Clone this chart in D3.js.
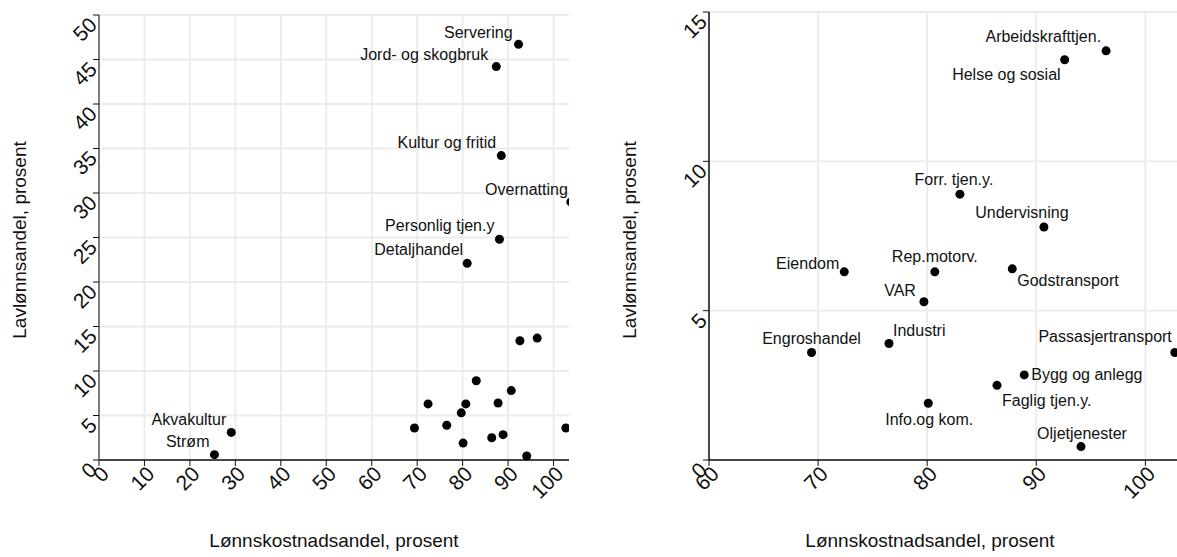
<!DOCTYPE html>
<html><head><meta charset="utf-8">
<script src="https://cdn.jsdelivr.net/npm/d3@7"></script>
<style>body{margin:0;background:#fff}text{font-family:"Liberation Sans",Arial,sans-serif;fill:#111}</style>
</head><body>
<script>
// left panel: all industries
const leftNames = ["Servering","Jord- og skogbruk","Kultur og fritid","Overnatting","Personlig tjen.y","Detaljhandel","Akvakultur","Strøm",
  "Arbeidskrafttjen.","Helse og sosial","Forr. tjen.y.","Undervisning","Eiendom","Rep.motorv.","VAR","Godstransport","Engroshandel","Industri",
  "Passasjertransport","Bygg og anlegg","Faglig tjen.y.","Info.og kom.","Oljetjenester"];
const leftX = [92.3,87.4,88.5,103.8,88.1,81.0,29.1,25.4, 96.4,92.6,83.0,90.7,72.4,80.7,79.7,87.8,69.4,76.5,102.7,88.9,86.4,80.1,94.1];
const leftY = [46.7,44.2,34.2,29.0,24.8,22.1,3.1,0.6, 13.7,13.4,8.9,7.8,6.3,6.3,5.3,6.4,3.6,3.9,3.6,2.85,2.5,1.9,0.45];
const leftLabelled = 8; // first 8 get labels on the left panel
const leftXTicks = [0,10,20,30,40,50,60,70,80,90,100];
const leftYTicks = [0,5,10,15,20,25,30,35,40,45,50];

// right panel: zoom on the low-wage-share cluster
const rightNames = leftNames.slice(8);
const rightX = leftX.slice(8);
const rightY = leftY.slice(8);
const rightXTicks = [60,70,80,90,100];
const rightYTicks = [0,5,10,15];

// label placement [anchor, dx, dy]
const leftLab = [["end",-6,-6],["end",-8,-7],["end",-5,-8],["end",-3,-7],["end",-5,-8],["end",-4,-8],["end",-5,-7],["end",-5,-8]];
const rightLab = [["end",-5,-9],["end",-4,20],["middle",-6,-9],["middle",-22,-9],["end",-5,-3],["middle",0,-10],["end",-8,-6],
  ["start",5,17],["middle",0,-8],["start",4,-8],["end",-3,-10],["start",7,5],["start",5,21],["middle",1,22],["middle",1,-8]];

const svg = d3.select("body").append("svg").attr("width",1177).attr("height",557);

function panel(o) {
  const x = d3.scaleLinear().domain(o.xd).range(o.xr);
  const y = d3.scaleLinear().domain(o.yd).range([460, o.ytop]);
  const g = svg.append("g");
  const cl = "clip" + o.id;
  svg.append("clipPath").attr("id", cl).append("rect")
    .attr("x", o.xr[0]).attr("y", 0).attr("width", o.xr[1]-o.xr[0]).attr("height", 470);
  // grid
  g.selectAll(".gx").data(o.xt).join("line").attr("x1",d=>x(d)).attr("x2",d=>x(d))
    .attr("y1",460).attr("y2",o.ytop).attr("stroke","#ebebeb").attr("stroke-width",1.8);
  g.selectAll(".gy").data(o.yt).join("line").attr("y1",d=>y(d)).attr("y2",d=>y(d))
    .attr("x1",o.xr[0]).attr("x2",o.xr[1]).attr("stroke","#ebebeb").attr("stroke-width",1.8);
  // axes
  g.append("line").attr("x1",o.xr[0]).attr("x2",o.xr[1]).attr("y1",460).attr("y2",460).attr("stroke","#111").attr("stroke-width",1.5);
  g.append("line").attr("x1",o.xr[0]).attr("x2",o.xr[0]).attr("y1",460).attr("y2",o.ytop).attr("stroke",o.ycol).attr("stroke-width",1.5);
  g.selectAll(".tx").data(o.xt).join("line").attr("x1",d=>x(d)).attr("x2",d=>x(d)).attr("y1",460).attr("y2",466).attr("stroke","#111");
  g.selectAll(".ty").data(o.yt).join("line").attr("y1",d=>y(d)).attr("y2",d=>y(d)).attr("x1",o.xr[0]-6).attr("x2",o.xr[0]).attr("stroke","#111");
  g.selectAll(".lx").data(o.xt).join("text").attr("font-size",21).attr("text-anchor","end").attr("dy","0.35em")
    .attr("transform",d=>`translate(${x(d)+6},${470}) rotate(-45)`).text(d=>d);
  g.selectAll(".ly").data(o.yt).join("text").attr("font-size",21).attr("text-anchor","end").attr("dy","0.35em")
    .attr("transform",d=>`translate(${o.xr[0]-6},${y(d)+6}) rotate(-45)`).text(d=>d);
  // titles
  g.append("text").attr("font-size",19).attr("text-anchor","middle").attr("x",o.xtx).attr("y",547).text("Lønnskostnadsandel, prosent");
  g.append("text").attr("font-size",19).attr("text-anchor","middle").attr("transform",`translate(${o.ytx},240) rotate(-90)`).text("Lavlønnsandel, prosent");
  // points
  const pts = o.xs.map((v,i)=>({x:v,y:o.ys[i],n:o.names[i],l:o.lab[i]}));
  const pg = g.append("g").attr("clip-path",`url(#${cl})`);
  pg.selectAll("circle").data(pts).join("circle").attr("cx",d=>x(d.x)).attr("cy",d=>y(d.y)).attr("r",4.5).attr("fill","#000");
  g.selectAll(".pl").data(pts.filter(d=>d.l)).join("text").attr("font-size",16)
    .attr("text-anchor",d=>d.l[0]).attr("x",d=>x(d.x)+d.l[1]).attr("y",d=>y(d.y)+d.l[2]).text(d=>d.n);
}

panel({id:"a", xd:[0,103.4], xr:[99,569], yd:[0,50], ytop:15, xt:leftXTicks, yt:leftYTicks, ycol:"#555",
  xs:leftX, ys:leftY, names:leftNames, lab:leftNames.map((d,i)=>i<leftLabelled?leftLab[i]:null), xtx:334, ytx:26});
panel({id:"b", xd:[60,102.9], xr:[709,1177], yd:[0,15], ytop:12, xt:rightXTicks, yt:rightYTicks, ycol:"#111",
  xs:rightX, ys:rightY, names:rightNames, lab:rightLab, xtx:930, ytx:636});
</script>
</body></html>
